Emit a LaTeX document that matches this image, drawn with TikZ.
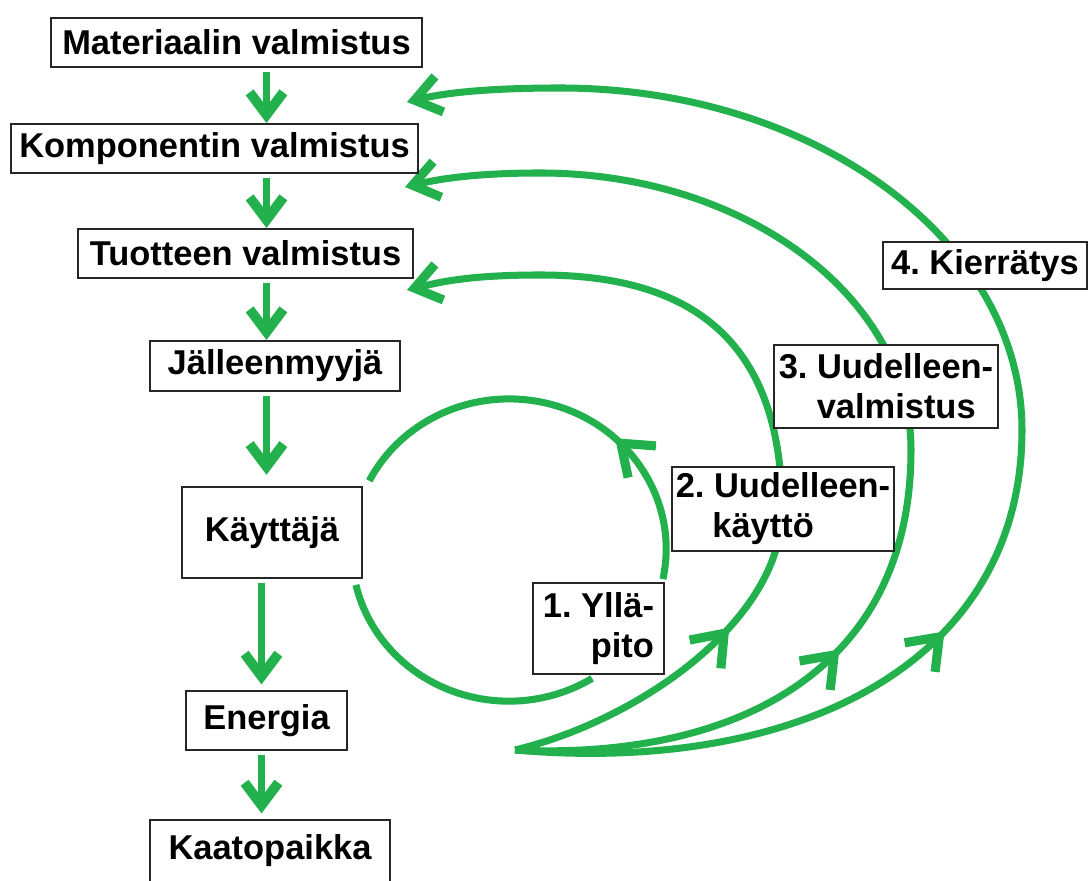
\documentclass[tikz,border=0pt]{standalone}
\usepackage{fontspec}
\setmainfont{Liberation Sans}
\usepackage{tikz}
\usetikzlibrary{arrows.meta,decorations.markings,backgrounds}
\definecolor{paint_green}{RGB}{34,177,76}
\tikzset{
stage_box/.style={rectangle, draw=black!85, line width=1.3pt, fill=white, inner sep=0pt, font=\bfseries\fontsize{24.5}{28.5}\selectfont},
route_box/.style={stage_box, align=left},
flow/.style={draw=paint_green, line width=5.6pt, -{Straight Barb[length=16pt, width=24pt, line width=7pt]}, shorten <=3pt, shorten >=0pt},
back_flow/.style={draw=paint_green, line width=5pt, -{Straight Barb[length=18pt, width=26pt, line width=6.5pt]}},
loop_line/.style={draw=paint_green, line width=5pt},
mid_arrow/.style={postaction={decorate}, decoration={markings, mark=at position #1 with {\arrow{Straight Barb[length=20pt, width=30pt, line width=6.5pt]}}}}
}

\begin{document}
\frenchspacing
\begin{tikzpicture}[x=0.025cm, y=0.025cm]
    \useasboundingbox (0,0) rectangle (1088,881);
    % product chain
    \node[stage_box, minimum width=9.275cm, minimum height=1.225cm] (mat) at (236.5,838.5) {Materiaalin valmistus};
    \node[stage_box, minimum width=10.175cm, minimum height=1.225cm] (komp) at (214.5,732.5) {Komponentin valmistus};
    \node[stage_box, minimum width=8.375cm, minimum height=1.225cm] (tuot) at (245.5,627.5) {Tuotteen valmistus};
    \node[stage_box, minimum width=6.25cm, minimum height=1.25cm] (jall) at (275,515) {Jälleenmyyjä};
    \node[stage_box, minimum width=4.5cm, minimum height=2.275cm] (kayt) at (272,348.5) {Käyttäjä};
    \node[stage_box, minimum width=4.025cm, minimum height=1.475cm] (ener) at (266.5,160.5) {Energia};
    \node[stage_box, minimum width=6cm, minimum height=1.55cm] (kaat) at (270,30) {Kaatopaikka};
    % return routes
    \node[route_box, minimum width=3.275cm, minimum height=2.275cm] (yll) at (598.5,252.5) {1. Yllä-\\\hspace*{34pt}pito};
    \node[route_box, minimum width=5.55cm, minimum height=2.1cm] (uk) at (783,372) {2. Uudelleen-\\\hspace*{26pt}käyttö};
    \node[route_box, minimum width=5.6cm, minimum height=2.075cm] (uv) at (886,494.5) {3. Uudelleen-\\\hspace*{27pt}valmistus};
    \node[route_box, minimum width=5.1cm, minimum height=1.175cm] (kier) at (985,615.5) {4. Kierrätys};

    \coordinate (spine_up) at (266.5,0);
    \coordinate (spine_low) at (261.5,0);
    \coordinate (src) at (515,131);
    \coordinate (in_2) at (407,591);
    \coordinate (in_3) at (405,694);
    \coordinate (in_4) at (407,779);

    \begin{scope}[on background layer]
    \draw[flow] (mat.south -| spine_up) -- (komp.north -| spine_up);
    \draw[flow] (komp.south -| spine_up) -- (tuot.north -| spine_up);
    \draw[flow] (tuot.south -| spine_up) -- (jall.north -| spine_up);
    \draw[flow, shorten >=8pt] (jall.south -| spine_up) -- (kayt.north -| spine_up);
    \draw[flow, shorten >=4pt] (kayt.south -| spine_low) -- (ener.north -| spine_low);
    \draw[flow, shorten >=4pt] (ener.south -| spine_low) -- (kaat.north -| spine_low);

    % maintenance loop
    \draw[loop_line, mid_arrow=3.9cm] ([shift={(-2,3)}]yll.north east) arc[start angle=-11.6, end angle=153, x radius=157, y radius=150];
    \draw[loop_line] ([shift={(-7,-6)}]kayt.south east) arc[start angle=193, end angle=302, x radius=157, y radius=150];

    % reuse, remanufacturing, recycling
    \draw[back_flow, mid_arrow=6.25cm] (src) .. controls (640,161) and (782,261) .. (782,371)
        .. controls (782,551) and (680,606) .. (540,606) .. controls (470,606) and (440,599) .. (in_2);
    \draw[back_flow, mid_arrow=8.75cm] (src) .. controls (720,121) and (911,200) .. (911,431)
        .. controls (911,584) and (745,708) .. (540,708) .. controls (470,708) and (435,701) .. (in_3);
    \draw[back_flow, mid_arrow=11.5cm] (src) .. controls (800,106) and (1022,220) .. (1022,451)
        .. controls (1022,640) and (815,793) .. (560,793) .. controls (480,793) and (440,787) .. (in_4);
    \end{scope}
\end{tikzpicture}
\end{document}
